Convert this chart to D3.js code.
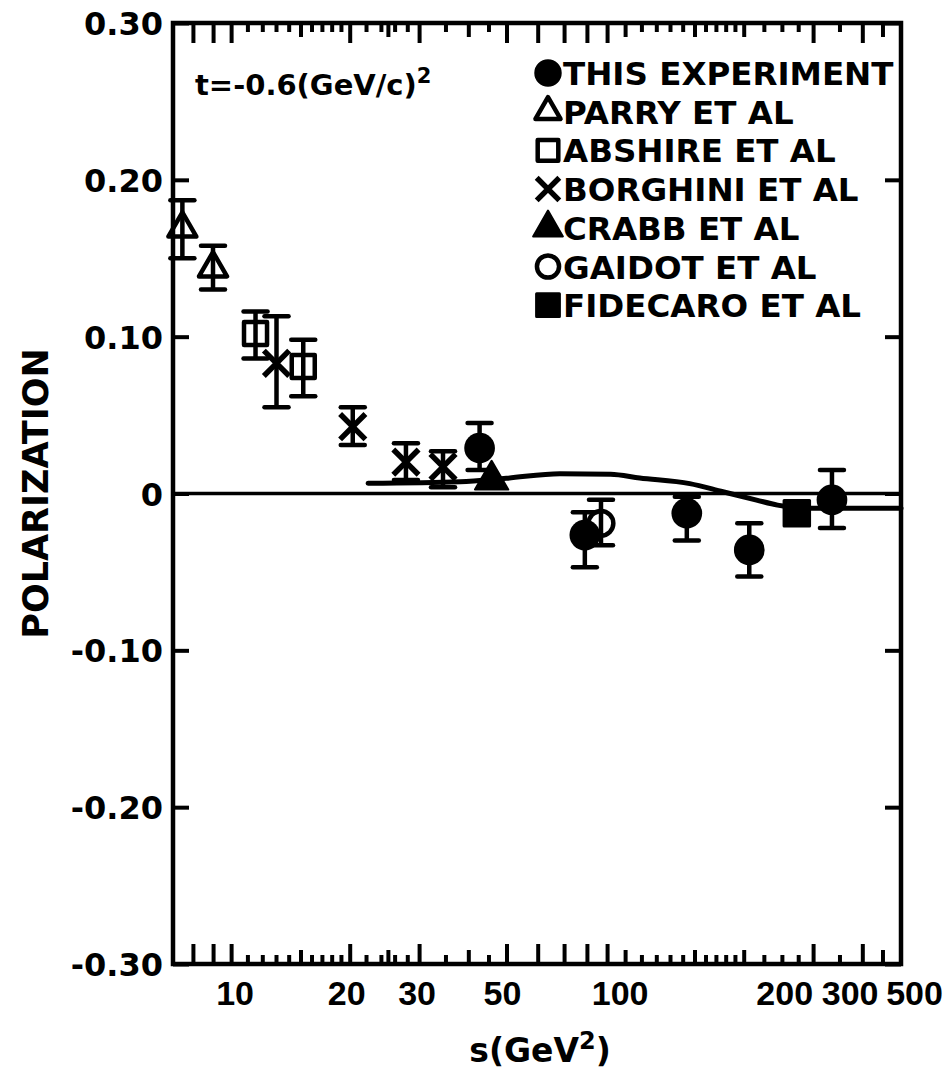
<!DOCTYPE html>
<html>
<head>
<meta charset="utf-8">
<script src="https://cdn.jsdelivr.net/npm/d3@7"></script>
<style>
  body { margin: 0; background: #fff; }
  text { font-family: "DejaVu Sans", sans-serif; font-weight: bold; fill: #000; }
</style>
</head>
<body>
<div id="chart"></div>
<script>
// ---- data ----
const thisS  = [42.6, 78.8, 143, 206, 334];
const thisP  = [0.029, -0.0265, -0.0126, -0.036, -0.004];
const thisLo = [0.015, -0.047, -0.030, -0.053, -0.022];
const thisHi = [0.045, -0.012, -0.002, -0.019, 0.015];

const parryS  = [7.5, 8.97];
const parryP  = [0.169, 0.1436];
const parryLo = [0.150, 0.130];
const parryHi = [0.187, 0.158];

const abshireS  = [11.5, 15.2];
const abshireP  = [0.102, 0.081];
const abshireLo = [0.086, 0.062];
const abshireHi = [0.116, 0.098];

const borghiniS  = [13.0, 20.3, 27.7, 34.4];
const borghiniP  = [0.083, 0.0426, 0.020, 0.017];
const borghiniLo = [0.055, 0.031, 0.0086, 0.004];
const borghiniHi = [0.113, 0.055, 0.032, 0.027];

const crabbS = [45.7];
const crabbP = [0.0086];

const gaidotS  = [86.6];
const gaidotP  = [-0.019];
const gaidotLo = [-0.033];
const gaidotHi = [-0.004];

const fidecaroS = [272];
const fidecaroP = [-0.0126];

// smooth theory curve
const fitS = [22.2, 38, 49.8, 68.1, 91.6, 108.6, 145.5, 176.6, 215, 243, 293, 500];
const fitP = [0.0065, 0.0075, 0.0097, 0.0126, 0.0122, 0.0099, 0.0063, 0.0011, -0.0042, -0.0074, -0.0094, -0.0094];

const legendNames = ["THIS EXPERIMENT", "PARRY ET AL", "ABSHIRE ET AL", "BORGHINI ET AL",
                     "CRABB ET AL", "GAIDOT ET AL", "FIDECARO ET AL"];

const yTicks = [-0.3, -0.2, -0.1, 0, 0.1, 0.2, 0.3];
const yTickLabels = ["-0.30", "-0.20", "-0.10", "0", "0.10", "0.20", "0.30"];
const xLabelVals = [10, 20, 30, 50, 100, 200, 300, 500];
const xTicksLong  = [8, 9, 10, 20, 30, 50, 60, 70, 80, 90, 300, 400];
const xTicksMid   = [15, 25, 40, 100, 150, 200, 450];
const xTicksShort = [11, 12, 13, 14, 16, 17, 18, 19, 22, 24, 26, 28, 35, 45,
                     110, 120, 130, 140, 160, 170, 180, 190, 225, 250, 275, 350];

// ---- layout ----
const width = 952, height = 1072;
const x = d3.scaleLog().domain([7.1, 500]).range([173, 901]);
const y = d3.scaleLinear().domain([-0.3, 0.3]).range([964, 23]);
const [x0, x1] = x.range();
const [yb, yt] = y.range();
// hand lettered labels sit a little off their ticks
const labelNudge = {10: 3, 20: -4, 30: -3, 50: -5, 100: -6, 200: 40, 300: 36, 500: 13};

const svg = d3.select("#chart").append("svg")
  .attr("width", width).attr("height", height)
  .style("background", "#fff");

// zero line
svg.append("line")
  .attr("x1", x0).attr("x2", x1)
  .attr("y1", y(0)).attr("y2", y(0))
  .attr("stroke", "#000").attr("stroke-width", 3.5);

// theory curve
const fit = fitS.map((s, i) => [s, fitP[i]]);
svg.append("path")
  .datum(fit)
  .attr("fill", "none").attr("stroke", "#000").attr("stroke-width", 5)
  .attr("stroke-linecap", "round")
  .attr("d", d3.line().x(d => x(d[0])).y(d => y(d[1])).curve(d3.curveMonotoneX));

// error bars
function errorBars(S, P, Lo, Hi) {
  const rows = S.map((s, i) => ({s, p: P[i], lo: Lo[i], hi: Hi[i]}));
  const g = svg.append("g").attr("stroke", "#000").attr("stroke-width", 4.5);
  g.selectAll("line.v").data(rows).join("line")
    .attr("x1", d => x(d.s)).attr("x2", d => x(d.s))
    .attr("y1", d => y(d.lo)).attr("y2", d => y(d.hi));
  g.selectAll("line.c").data(rows.flatMap(d => [[d.s, d.lo], [d.s, d.hi]])).join("line")
    .attr("stroke-linecap", "round")
    .attr("x1", d => x(d[0]) - 12).attr("x2", d => x(d[0]) + 12)
    .attr("y1", d => y(d[1])).attr("y2", d => y(d[1]));
}
errorBars(parryS, parryP, parryLo, parryHi);
errorBars(abshireS, abshireP, abshireLo, abshireHi);
errorBars(borghiniS, borghiniP, borghiniLo, borghiniHi);
errorBars(gaidotS, gaidotP, gaidotLo, gaidotHi);
errorBars(thisS, thisP, thisLo, thisHi);

// marker styles
const markers = [
  {type: d3.symbolCircle,   size: 740, fill: "#000", stroke: "none", sw: 0},
  {type: d3.symbolTriangle, size: 340, fill: "none", stroke: "#000", sw: 4.5},
  {type: d3.symbolSquare,   size: 530, fill: "none", stroke: "#000", sw: 4.5},
  {type: d3.symbolTimes,    size: 420, fill: "none", stroke: "#000", sw: 5.5},
  {type: d3.symbolTriangle, size: 480, fill: "#000", stroke: "#000", sw: 2},
  {type: d3.symbolCircle,   size: 480, fill: "none", stroke: "#000", sw: 4.5},
  {type: d3.symbolSquare,   size: 650, fill: "#000", stroke: "#000", sw: 3}
];

function points(S, P, m) {
  svg.append("g").selectAll("path").data(S.map((s, i) => [s, P[i]])).join("path")
    .attr("transform", d => `translate(${x(d[0])},${y(d[1])})`)
    .attr("d", d3.symbol(m.type, m.size))
    .attr("fill", m.fill).attr("stroke", m.stroke).attr("stroke-width", m.sw)
    .attr("stroke-linejoin", "round");
}
points(parryS, parryP, markers[1]);
points(abshireS, abshireP, markers[2]);
points(borghiniS, borghiniP, markers[3]);
points(crabbS, crabbP, markers[4]);
points(gaidotS, gaidotP, markers[5]);
points(fidecaroS, fidecaroP, markers[6]);
points(thisS, thisP, markers[0]);

// ---- frame and ticks ----
svg.append("rect")
  .attr("x", x0).attr("y", yt).attr("width", x1 - x0).attr("height", yb - yt)
  .attr("fill", "none").attr("stroke", "#000").attr("stroke-width", 4.5);

function styleTicks(g) {
  g.select(".domain").remove();
  g.selectAll(".tick line").attr("stroke", "#000").attr("stroke-width", 4);
}

// x ticks, inward on bottom and top edges
const xTickRows = [
  ...xTicksLong.map(v => ({v, len: 20})),
  ...xTicksMid.map(v => ({v, len: 14})),
  ...xTicksShort.map(v => ({v, len: 9}))
];
const xt0 = svg.append("g").attr("stroke", "#000").attr("stroke-width", 4);
xt0.selectAll("line.b").data(xTickRows).join("line")
  .attr("x1", d => x(d.v)).attr("x2", d => x(d.v))
  .attr("y1", yb).attr("y2", d => yb - d.len);
xt0.selectAll("line.t").data(xTickRows).join("line")
  .attr("x1", d => x(d.v)).attr("x2", d => x(d.v))
  .attr("y1", yt).attr("y2", d => yt + d.len);

// x labels
svg.append("g").attr("transform", `translate(0,${yb})`)
  .call(d3.axisBottom(x).tickValues(xLabelVals).tickSize(0).tickFormat(d => String(d)))
  .call(g => g.select(".domain").remove())
  .call(g => g.selectAll("text")
    .attr("y", 41).attr("dy", null)
    .attr("dx", d => labelNudge[d])
    .attr("font-size", 34)
    .style("font-family", "'Liberation Sans', sans-serif"));

// y axis, left with labels
svg.append("g").attr("transform", `translate(${x0},0)`)
  .call(d3.axisLeft(y).tickValues(yTicks).tickSize(-16).tickPadding(10)
    .tickFormat((d, i) => yTickLabels[i]))
  .call(styleTicks)
  .call(g => g.selectAll("text").attr("font-size", 32).attr("dy", "0.36em"));

// y axis, right
svg.append("g").attr("transform", `translate(${x1},0)`)
  .call(d3.axisRight(y).tickValues(yTicks).tickSize(-16).tickFormat(""))
  .call(styleTicks);

// axis titles
svg.append("text")
  .attr("transform", `translate(48,${y(0)}) rotate(-90)`)
  .attr("text-anchor", "middle")
  .attr("font-size", 35)
  .text("POLARIZATION");

const xt = svg.append("text")
  .attr("x", 540).attr("y", 1062)
  .attr("text-anchor", "middle")
  .attr("font-size", 33);
xt.append("tspan").text("s(GeV");
xt.append("tspan").attr("dy", -13).attr("font-size", 24).text("2");
xt.append("tspan").attr("dy", 13).text(")");

// annotation
const ann = svg.append("text")
  .attr("x", 195).attr("y", 95)
  .attr("font-size", 29);
ann.append("tspan").text("t=-0.6(GeV/c)");
ann.append("tspan").attr("dy", -12).attr("font-size", 21).text("2");

// ---- legend ----
const legend = svg.append("g");
legendNames.forEach((name, i) => {
  const cy = 73 + i * 38.7;
  const m = markers[i];
  legend.append("path")
    .attr("transform", `translate(548,${cy})`)
    .attr("d", d3.symbol(m.type, m.size * 0.8))
    .attr("fill", m.fill).attr("stroke", m.stroke).attr("stroke-width", m.sw)
    .attr("stroke-linejoin", "round");
  legend.append("text")
    .attr("x", 563).attr("y", cy + 12)
    .attr("font-size", 32.5)
    .text(name);
});
</script>
</body>
</html>
